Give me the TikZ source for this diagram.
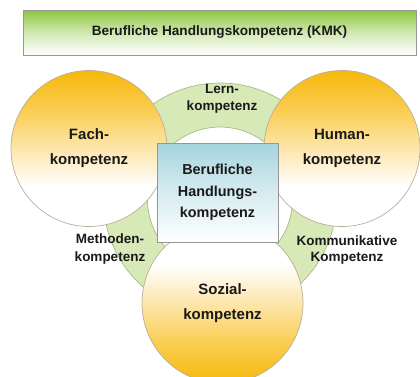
\documentclass[tikz,border=0pt]{standalone}
\usepackage{fontspec}
\setmainfont{Liberation Sans}
\pgfdeclareverticalshading{topfadeshade}{100bp}{%
  color(0bp)=(white); color(25bp)=(white); color(38bp)=(white);
  color(50bp)=(rgb,255:red,253;green,230;blue,172);
  color(62bp)=(rgb,255:red,250;green,206;blue,84);
  color(75bp)=(rgb,255:red,246;green,184;blue,10); color(100bp)=(rgb,255:red,246;green,184;blue,10)}
\pgfdeclareverticalshading{botfadeshade}{100bp}{%
  color(0bp)=(rgb,255:red,246;green,184;blue,10); color(25bp)=(rgb,255:red,246;green,184;blue,10);
  color(38bp)=(rgb,255:red,250;green,206;blue,84);
  color(50bp)=(rgb,255:red,253;green,230;blue,172);
  color(62bp)=(white); color(75bp)=(white); color(100bp)=(white)}
\begin{document}
\begin{tikzpicture}[x=1pt,y=-1pt,
  every node/.style={font=\bfseries, text=black!90},
  comp/.style={circle, draw=circborder, line width=0.7pt, minimum size=156pt, inner sep=0pt, align=center, font=\fontsize{15}{25}\selectfont\bfseries},
  topfade/.style={shading=topfadeshade},
  botfade/.style={shading=botfadeshade},
  smalllabel/.style={align=center, inner sep=0pt, font=\fontsize{13.5}{17.5}\selectfont\bfseries},
  ringline/.style={draw=ringborder, line width=0.7pt}
]
\definecolor{circborder}{RGB}{184,176,150}
\definecolor{ringgreen}{RGB}{216,233,184}
\definecolor{ringborder}{RGB}{165,188,135}
\definecolor{bannergreen}{RGB}{140,198,62}
\definecolor{boxblue}{RGB}{165,212,222}
\definecolor{boxborder}{RGB}{150,150,150}
\useasboundingbox (0,0) rectangle (420,376);
\fill[white] (0,0) rectangle (420,376);
% banner
\node[draw=boxborder, line width=0.8pt, top color=bannergreen, bottom color=white, middle color=bannergreen!40,
  minimum width=393pt, minimum height=45pt, inner sep=0pt, font=\fontsize{13.6}{16}\selectfont\bfseries]
  (banner) at (219.5,32.5) {Berufliche Handlungskompetenz (KMK)};
% ring
\coordinate (rc) at (220,199.5);
\fill[ringgreen, even odd rule] (rc) circle (116.5) (rc) circle (72.5);
\draw[ringline] (rc) circle (116.5);
\draw[ringline] (rc) circle (72.5);
% circles
\node[comp, topfade] (fach) at (89,148.5) {Fach-\\kompetenz};
\node[comp, topfade] (human) at (342,148.5) {Human-\\kompetenz};
\node[comp, botfade, minimum size=161pt] (sozial) at (222.5,303) {Sozial-\\kompetenz};
% center box
\node[draw=boxborder, line width=0.8pt, top color=boxblue, bottom color=white, middle color=boxblue!45,
  minimum width=121pt, minimum height=99pt, inner sep=0pt, align=center,
  font=\fontsize{14.4}{21.5}\selectfont\bfseries]
  (box) at (217.5,192.5) {Berufliche\\Handlungs-\\kompetenz};
% ring labels
\node[smalllabel] (lern) at (222,99) {Lern-\\kompetenz};
\node[smalllabel] (methoden) at (110,249) {Methoden-\\kompetenz};
\node[smalllabel, font=\fontsize{13.5}{16.5}\selectfont\bfseries] (komm) at (347,250) {Kommunikative\\Kompetenz};
\end{tikzpicture}
\end{document}
